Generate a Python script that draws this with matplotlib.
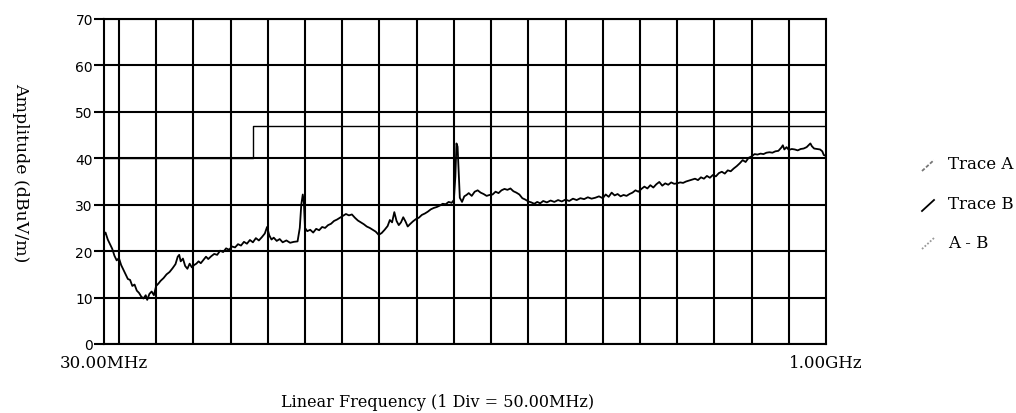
import matplotlib.pyplot as plt
from matplotlib.lines import Line2D
import numpy as np

# trace (MHz, dBuV/m)
freq = [30, 32, 35, 38, 41, 44, 47, 50, 53, 56, 59, 62, 65, 68, 71, 74, 77, 80, 83, 86,
        88, 91, 94, 97, 100, 103, 106, 110, 114, 118, 122, 126, 129, 131, 133, 136, 139, 142,
        145, 148, 151, 154, 157, 160, 164, 167, 170, 174, 178, 182, 186, 190, 194, 198, 202,
        206, 210, 214, 218, 222, 226, 230, 234, 238, 242, 246, 249, 252, 255, 258, 262, 266,
        270, 275, 280, 285, 290, 293, 295, 297, 298.5, 300, 303, 307, 311, 315, 319, 323, 327,
        331, 335, 339, 343, 347, 351, 355, 359, 363, 367, 371, 375, 379, 383, 387, 391, 395,
        399, 403, 407, 411, 414, 417, 420, 423, 426, 429, 432, 435, 438, 441, 445, 449, 453,
        457, 461, 465, 469, 473, 477, 481, 485, 489, 493, 497, 500, 502, 503.5, 505, 506.5,
        508, 511, 514, 517, 520, 524, 528, 532, 536, 540, 544, 548, 552, 556, 560, 564, 568,
        572, 576, 580, 584, 588, 592, 596, 600, 604, 608, 612, 616, 620, 625, 630, 635, 640,
        645, 650, 655, 660, 665, 670, 675, 680, 685, 690, 695, 700, 704, 708, 712, 716, 720,
        724, 728, 732, 736, 740, 744, 748, 752, 756, 760, 764, 768, 772, 776, 780, 784, 788,
        792, 796, 800, 804, 808, 812, 816, 820, 824, 828, 832, 836, 840, 844, 848, 852, 856,
        860, 864, 868, 872, 876, 880, 884, 888, 892, 896, 900, 904, 908, 912, 916, 920, 924,
        928, 932, 936, 940, 942, 944, 947, 950, 954, 958, 962, 966, 970, 974, 977, 979, 981,
        984, 988, 992, 995, 997, 1000]
level = [23.5, 24, 22.5, 21.5, 20.5, 19, 18, 18.5, 17, 16, 15, 14, 13.8, 12.5, 12.8, 11.5, 11, 10.2, 9.8, 10.5,
         9.5, 10.8, 11.3, 10.5, 12.5, 13, 13.6, 14.2, 15, 15.5, 16.3, 17.2, 18.8, 19.2, 17.8, 18.4, 16.8, 16.2,
         17.3, 16.5, 17, 17.3, 17.8, 17.4, 18.2, 18.8, 18.3, 18.9, 19.4, 19.2, 20.1, 19.8, 20.6, 20.3, 21,
         20.8, 21.5, 21.2, 22, 21.6, 22.4, 21.9, 22.8, 22.3, 23, 23.8, 25.2, 23.4, 22.5, 22.9, 22.2, 22.6,
         21.9, 22.3, 21.8, 22, 22.1, 25, 30, 32.2, 30.5, 25, 24.3, 24.6, 24, 24.8, 24.5, 25.2, 25,
         25.6, 25.9, 26.5, 26.8, 27.2, 27.6, 28, 27.7, 27.9, 27.2, 26.6, 26.2, 25.8, 25.3, 25, 24.6, 24.2,
         23.5, 23.9, 24.6, 25.4, 26.7, 26.2, 28.4, 26.5, 25.6, 26.2, 27.3, 26.4, 25.3, 25.8, 26.4, 26.9, 27.2,
         27.8, 28.1, 28.5, 29, 29.3, 29.5, 29.8, 30.2, 30.1, 30.6, 30.4, 31, 36, 43.2, 42.5, 37,
         31.5, 30.6, 31.8, 32.1, 32.5, 31.9, 32.8, 33.1, 32.6, 32.3, 31.9, 32.1, 32.2, 32.8, 32.5, 33.1, 33.4,
         33.2, 33.5, 32.9, 32.6, 32.2, 31.4, 31.1, 30.7, 30.5, 30.2, 30.6, 30.3, 30.8, 30.5, 30.9, 30.6, 31,
         30.7, 31.1, 30.8, 31.3, 31, 31.4, 31.2, 31.6, 31.3, 31.5, 31.8, 31.4, 32.2, 31.7, 32.6, 32, 32.3,
         31.8, 32.1, 31.9, 32.3, 32.6, 33.1, 32.8, 33.4, 33.9, 33.5, 34.2, 33.7, 34.4, 34.9, 34.1, 34.6, 34.3,
         34.8, 34.5, 34.6, 34.8, 34.7, 35, 35.2, 35.4, 35.6, 35.3, 35.9, 35.6, 36.2, 35.8, 36.4, 36.1, 36.8,
         37.1, 36.7, 37.4, 37.2, 37.8, 38.3, 38.9, 39.6, 39.2, 40.1, 40.4, 40.9, 40.8, 41, 40.9, 41.2, 41.3,
         41.2, 41.5, 41.6, 42.3, 42.8, 41.9, 42.4, 41.8, 42, 41.9, 41.7, 42, 42.1, 42.4, 42.9, 43.2, 42.6,
         42.1, 42, 41.9, 41.5, 40.7, 40.5]

# limit line
limit_freq = [30, 230, 230, 1000]
limit_level = [40, 40, 47, 47]

y_ticks = [0, 10, 20, 30, 40, 50, 60, 70]
grid_freq = np.arange(50, 1000, 50)

fig = plt.figure(figsize=(10.16, 4.14), dpi=100)
ax = fig.add_axes([0.1024, 0.1667, 0.7106, 0.785])

ax.plot(limit_freq, limit_level, color='black', lw=1.0)
ax.plot(freq, level, color='black', lw=1.3)

ax.set_xlim(30, 1000)
ax.set_ylim(0, 70)
ax.set_xticks([30, 1000], labels=['30.00MHz', '1.00GHz'])
ax.set_xticks(grid_freq, minor=True)
ax.set_yticks(y_ticks)
ax.tick_params(axis='x', which='both', length=0, pad=7, labelsize=12)
ax.tick_params(axis='y', length=7, width=1.5, pad=1, labelsize=10)
for lab in ax.get_xticklabels():
    lab.set_family('DejaVu Serif')
ax.grid(True, which='minor', axis='x', color='black', lw=1.5)
ax.grid(True, which='major', axis='y', color='black', lw=1.5)
for s in ax.spines.values():
    s.set_linewidth(1.5)

fig.text(0.02, 1 - 173 / 414, 'Amplitude (dBuV/m)', rotation=270, ha='center', va='center',
         family='DejaVu Serif', fontsize=12.5)
fig.text(0.431, 0.027, 'Linear Frequency (1 Div = 50.00MHz)', ha='center', va='center',
         family='DejaVu Serif', fontsize=11.5)

# legend
legend = [('Trace A', 165, '#777777', (0, (2, 1))),
          ('Trace B', 205, 'black', '-'),
          ('A - B', 243, '#999999', (0, (1, 1)))]
for name, ypx, col, ls in legend:
    fig.add_artist(Line2D([922 / 1016, 934 / 1016],
                          [1 - (ypx + 7) / 414, 1 - (ypx - 4) / 414],
                          color=col, lw=1.3, ls=ls))
    fig.text(948 / 1016, 1 - ypx / 414, name, ha='left', va='center',
             family='DejaVu Serif', fontsize=12)

plt.savefig('out.png', dpi=100)
